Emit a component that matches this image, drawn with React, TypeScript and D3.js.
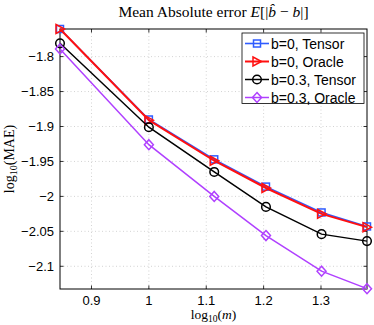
import React from 'react'
import * as d3 from 'd3'

const width = 374
const height = 325
const margin = { left: 60, top: 29, right: 7, bottom: 36 }

const logM = [0.8451, 1.0, 1.1139, 1.2041, 1.301, 1.3802]
const tensor0 = [-1.7605, -1.890, -1.947, -1.986, -2.023, -2.043]
const oracle0 = [-1.7605, -1.891, -1.949, -1.988, -2.025, -2.044]
const tensor03 = [-1.781, -1.901, -1.965, -2.015, -2.054, -2.064]
const oracle03 = [-1.789, -1.926, -2.0, -2.056, -2.107, -2.132]
const xTicks = [0.9, 1, 1.1, 1.2, 1.3]
const yTicks = [-1.8, -1.85, -1.9, -1.95, -2, -2.05, -2.1]
const seriesNames = ['b=0, Tensor', 'b=0, Oracle', 'b=0.3, Tensor', 'b=0.3, Oracle']

const series = [
  { name: seriesNames[0], values: tensor0, color: '#2f5cff', marker: 'square', lw: 1.6 },
  { name: seriesNames[1], values: oracle0, color: '#ff1010', marker: 'triangle', lw: 2 },
  { name: seriesNames[2], values: tensor03, color: '#000000', marker: 'circle', lw: 1.5 },
  { name: seriesNames[3], values: oracle03, color: '#b040ff', marker: 'diamond', lw: 1.5 },
]

function Marker({ type, x, y, color }) {
  const common = { fill: 'none', stroke: color, strokeWidth: 1.5 }
  if (type === 'square') return <rect x={x - 3.5} y={y - 3.5} width={7} height={7} {...common} />
  if (type === 'triangle')
    return <path d={`M${x - 4},${y - 4.5}L${x + 4.5},${y}L${x - 4},${y + 4.5}Z`} {...common} />
  if (type === 'circle') return <circle cx={x} cy={y} r={4.3} {...common} />
  return <path d={`M${x},${y - 5}L${x + 4.5},${y}L${x},${y + 5}L${x - 4.5},${y}Z`} {...common} />
}

function fmt(v: number) {
  return String(v).replace('-', '\u2212')
}

export default function App() {
  const pw = width - margin.left - margin.right
  const ph = height - margin.top - margin.bottom
  const x = d3.scaleLinear().domain([0.8451, 1.3802]).range([0, pw])
  const y = d3.scaleLinear().domain([-2.1325, -1.7605]).range([ph, 0])
  const line = d3
    .line<number>()
    .x((_, i) => x(logM[i]))
    .y((d) => y(d))

  const sans = 'Liberation Sans, Arial, sans-serif'
  const serif = 'Liberation Serif, Times New Roman, serif'

  return (
    <svg
      width={width}
      height={height}
      style={{ position: 'absolute', left: 0, top: 0, background: 'white' }}
    >
      <text x={margin.left + pw / 2} y={17} textAnchor="middle" fontFamily={serif} fontSize={15.5}>
        Mean Absolute error <tspan fontStyle="italic">E</tspan>[|<tspan fontStyle="italic">b&#770;</tspan> − <tspan fontStyle="italic">b</tspan>|]
      </text>
      <g transform={`translate(${margin.left},${margin.top})`}>
        {xTicks.map((t) => (
          <g key={'x' + t}>
            <line x1={x(t)} x2={x(t)} y1={0} y2={ph} stroke="#c8c8c8" strokeWidth={0.8} strokeDasharray="1,2.5" />
            <line x1={x(t)} x2={x(t)} y1={ph} y2={ph - 3.5} stroke="#000" strokeWidth={0.8} />
            <line x1={x(t)} x2={x(t)} y1={0} y2={3.5} stroke="#000" strokeWidth={0.8} />
            <text x={x(t)} y={ph + 15.5} textAnchor="middle" fontFamily={sans} fontSize={13}>
              {fmt(t)}
            </text>
          </g>
        ))}
        {yTicks.map((t) => (
          <g key={'y' + t}>
            <line x1={0} x2={pw} y1={y(t)} y2={y(t)} stroke="#c8c8c8" strokeWidth={0.8} strokeDasharray="1,2.5" />
            <line x1={0} x2={3.5} y1={y(t)} y2={y(t)} stroke="#000" strokeWidth={0.8} />
            <line x1={pw} x2={pw - 3.5} y1={y(t)} y2={y(t)} stroke="#000" strokeWidth={0.8} />
            <text x={-6} y={y(t) + 4.5} textAnchor="end" fontFamily={sans} fontSize={13}>
              {fmt(t)}
            </text>
          </g>
        ))}
        <rect x={0} y={0} width={pw} height={ph} fill="none" stroke="#000" strokeWidth={1} />
        {series.map((s) => (
          <g key={s.name}>
            <path d={line(s.values) || ''} fill="none" stroke={s.color} strokeWidth={s.lw} />
            {s.values.map((v, i) => (
              <Marker key={i} type={s.marker} x={x(logM[i])} y={y(v)} color={s.color} />
            ))}
          </g>
        ))}
      </g>
      <g transform="translate(242,33)">
        <rect x={0} y={0} width={122} height={70.5} fill="white" stroke="#000" strokeWidth={0.8} />
        {series.map((s, i) => (
          <g key={s.name} transform={`translate(0,${10.5 + i * 18})`}>
            <line x1={3} x2={27} y1={0} y2={0} stroke={s.color} strokeWidth={s.lw} />
            <Marker type={s.marker} x={15} y={0} color={s.color} />
            <text x={29} y={5} fontFamily={sans} fontSize={14}>
              {s.name}
            </text>
          </g>
        ))}
      </g>
      <text x={margin.left + pw / 2} y={318.5} textAnchor="middle" fontFamily={serif} fontSize={13.5}>
        log<tspan fontSize={9.5} dy={3}>10</tspan>
        <tspan dy={-3}>(</tspan>
        <tspan fontStyle="italic">m</tspan>)
      </text>
      <text
        transform={`translate(14,${margin.top + ph / 2}) rotate(-90)`}
        textAnchor="middle"
        fontFamily={serif}
        fontSize={14}
      >
        log<tspan fontSize={10} dy={3}>10</tspan>
        <tspan dy={-3}>(MAE)</tspan>
      </text>
    </svg>
  )
}
